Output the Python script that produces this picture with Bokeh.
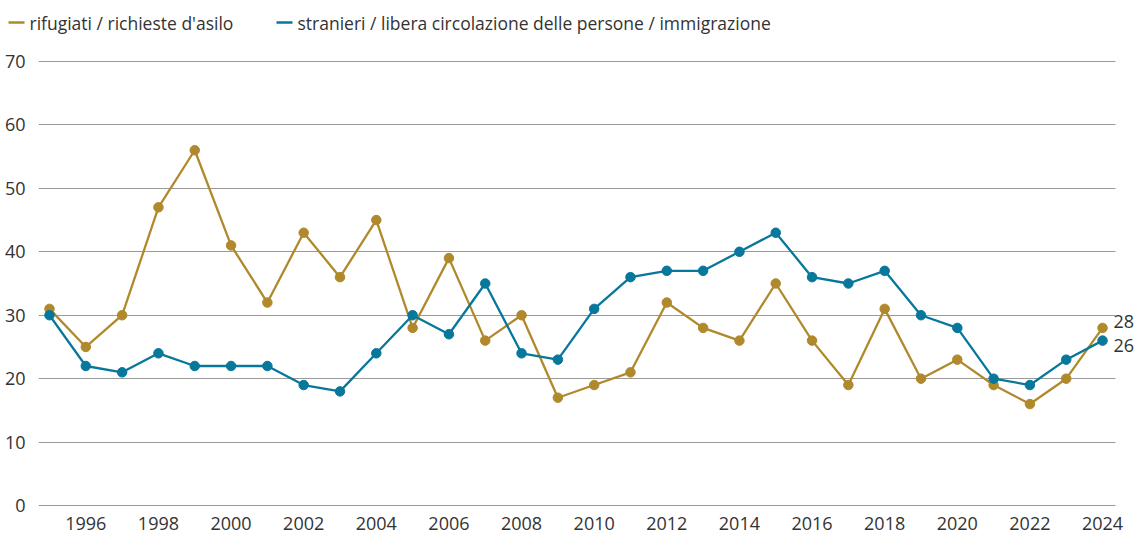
from bokeh.plotting import figure
from bokeh.models import Range1d, FixedTicker, Label
from bokeh.layouts import column, row
from bokeh.embed import file_html
from bokeh.resources import INLINE

years = list(range(1995, 2025))
rifugiati = [31, 25, 30, 47, 56, 41, 32, 43, 36, 45, 28, 39, 26, 30, 17, 19, 21, 32, 28, 26,
             35, 26, 19, 31, 20, 23, 19, 16, 20, 28]
stranieri = [30, 22, 21, 24, 22, 22, 22, 19, 18, 24, 30, 27, 35, 24, 23, 31, 36, 37, 37, 40,
             43, 36, 35, 37, 30, 28, 20, 19, 23, 26]
series_names = ["rifugiati / richieste d'asilo",
                "stranieri  / libera circolazione delle persone / immigrazione"]
y_ticks = [0, 10, 20, 30, 40, 50, 60, 70]
x_ticks = list(range(1996, 2025, 2))

GOLD = "#b0892c"
BLUE = "#08779c"
COLORS = [GOLD, BLUE]
FONT = "Open Sans"
TXT = "#333333"
W = 1134
LEG_H = 44

# ---- legend strip (separate small figure above the chart) ----
leg = figure(width=W, height=LEG_H, output_backend="svg", toolbar_location=None,
             x_axis_type=None, y_axis_type=None,
             x_range=Range1d(0, W), y_range=Range1d(0, LEG_H),
             min_border=0, min_border_left=0, min_border_right=0,
             min_border_top=0, min_border_bottom=0)
leg.grid.visible = False
leg.outline_line_color = None
leg_x = [8, 276]
leg_y = [22, 22]
leg.segment(x0=leg_x, y0=leg_y, x1=[x + 16 for x in leg_x], y1=leg_y,
            line_color=COLORS, line_width=2.5)
leg.text(x=[x + 21 for x in leg_x], y=leg_y, text=series_names,
         text_font={"value": FONT}, text_font_size="17.5px", text_color=TXT,
         text_baseline="middle", text_align="left")

# ---- main chart ----
p = figure(width=W, height=535 - LEG_H, output_backend="svg", toolbar_location=None,
           x_range=Range1d(1994.697, 2024.88), y_range=Range1d(-0.3, 70.3),
           min_border_left=38, min_border_right=0, min_border_bottom=28, min_border_top=15)
p.outline_line_color = None
p.background_fill_color = "white"
p.border_fill_color = "white"

p.line(years, rifugiati, line_color=GOLD, line_width=2.3)
p.scatter(years, rifugiati, size=9.5, fill_color=GOLD, line_color=GOLD)
p.line(years, stranieri, line_color=BLUE, line_width=2.3)
p.scatter(years, stranieri, size=9.5, fill_color=BLUE, line_color=BLUE)

p.xgrid.grid_line_color = None
p.ygrid.grid_line_color = "#9a9a9a"
p.ygrid.grid_line_width = 1
p.ygrid.cross_bounds = (1994.697, 2024.36)

for ax in (p.xaxis, p.yaxis):
    ax.axis_line_color = None
    ax.major_tick_line_color = None
    ax.minor_tick_line_color = None
    ax.major_label_text_font = FONT
    ax.major_label_text_font_size = "18px"
    ax.major_label_text_color = TXT
p.yaxis.ticker = FixedTicker(ticks=y_ticks)
p.xaxis.ticker = FixedTicker(ticks=x_ticks)
p.yaxis.major_label_standoff = 7
p.xaxis.major_label_standoff = 3

p.add_layout(Label(x=years[-1], y=rifugiati[-1], text=str(rifugiati[-1]), x_offset=11, y_offset=6,
                   text_font=FONT, text_font_size="18px", text_color=TXT, text_baseline="middle"))
p.add_layout(Label(x=years[-1], y=stranieri[-1], text=str(stranieri[-1]), x_offset=11, y_offset=-5,
                   text_font=FONT, text_font_size="18px", text_color=TXT, text_baseline="middle"))

layout = column(row(leg, spacing=0), p, spacing=0)
open("out.html", "w").write(file_html(layout, INLINE))
